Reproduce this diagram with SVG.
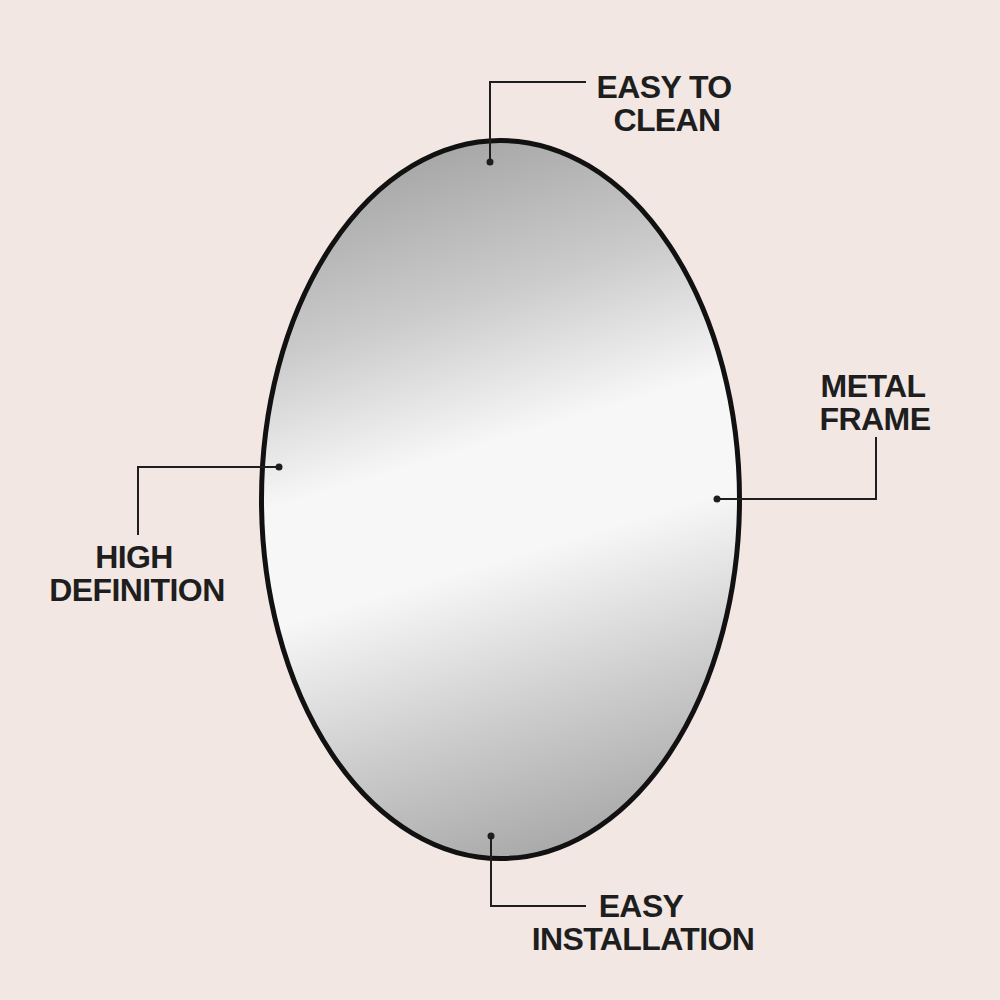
<svg xmlns="http://www.w3.org/2000/svg" width="1000" height="1000" viewBox="0 0 1000 1000">
<style>
.lbl{font-family:"Liberation Sans",Arial,sans-serif;font-weight:bold;font-size:32px;fill:#1e1e1e;text-anchor:middle;letter-spacing:-0.6px}
.con{fill:none;stroke:#1e1e1e;stroke-width:2}
.dot{fill:#1e1e1e}
</style>
<defs>
<linearGradient id="glass" x1="0.4" y1="0" x2="0.6" y2="1">
<stop offset="0" stop-color="#a6a6a6"/>
<stop offset="0.22" stop-color="#cbcbcb"/>
<stop offset="0.42" stop-color="#f7f7f7"/>
<stop offset="0.58" stop-color="#f7f7f7"/>
<stop offset="0.8" stop-color="#cccccc"/>
<stop offset="1" stop-color="#a8a8a8"/>
</linearGradient>
</defs>
<rect width="1000" height="1000" fill="#f2e7e3"/>
<g id="mirror">
<ellipse cx="500.5" cy="499.5" rx="239" ry="359" fill="url(#glass)" stroke="#111" stroke-width="5"/>
</g>
<g id="connectors">
<polyline class="con" points="586,82 490,82 490,162"/>
<circle class="dot" cx="490" cy="162" r="3.5"/>
<polyline class="con" points="279,467 138,467 138,535"/>
<circle class="dot" cx="279" cy="467" r="3.5"/>
<polyline class="con" points="717,499 876,499 876,437"/>
<circle class="dot" cx="717" cy="499" r="3.5"/>
<polyline class="con" points="491,836 491,906 586,906"/>
<circle class="dot" cx="491" cy="836" r="3.5"/>
</g>
<g id="easy-to-clean">
<text class="lbl" x="664" y="98">EASY TO</text>
<text class="lbl" x="667" y="131">CLEAN</text>
</g>
<g id="high-definition">
<text class="lbl" x="134" y="568">HIGH</text>
<text class="lbl" x="137" y="601">DEFINITION</text>
</g>
<g id="metal-frame">
<text class="lbl" x="873" y="397">METAL</text>
<text class="lbl" x="875" y="430">FRAME</text>
</g>
<g id="easy-installation">
<text class="lbl" x="641" y="917">EASY</text>
<text class="lbl" x="643" y="950">INSTALLATION</text>
</g>
</svg>
